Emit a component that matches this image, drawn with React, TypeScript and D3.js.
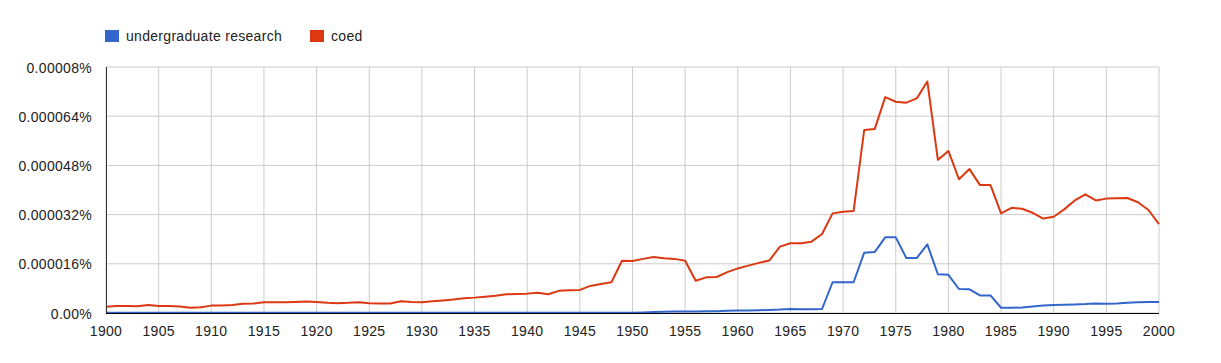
import React from "react";
import * as d3 from "d3";

const years: number[] = d3.range(1900, 2001);

// values in units of 1e-6 %
const coed: number[] = [
  2.0, 2.3, 2.3, 2.2, 2.6, 2.3, 2.3, 2.1, 1.7, 1.9,
  2.4, 2.4, 2.6, 3.0, 3.1, 3.5, 3.5, 3.5, 3.6, 3.7,
  3.6, 3.3, 3.2, 3.3, 3.5, 3.2, 3.1, 3.1, 3.8, 3.6,
  3.5, 3.8, 4.1, 4.4, 4.8, 5.0, 5.3, 5.6, 6.1, 6.2,
  6.3, 6.6, 6.1, 7.2, 7.4, 7.5, 8.8, 9.4, 10.0, 17.0,
  16.9, 17.6, 18.2, 17.8, 17.6, 17.0, 10.5, 11.6, 11.7, 13.3,
  14.5, 15.4, 16.3, 17.1, 21.6, 22.7, 22.7, 23.2, 25.7, 32.4,
  32.9, 33.2, 59.5, 59.8, 70.2, 68.7, 68.4, 69.8, 75.3, 49.8,
  52.7, 43.5, 46.8, 41.6, 41.6, 32.4, 34.2, 33.9, 32.6, 30.7,
  31.3, 33.7, 36.6, 38.6, 36.6, 37.2, 37.3, 37.4, 36.0, 33.5,
  28.9,
];

const undergrad: number[] = [
  0.05, 0.05, 0.05, 0.05, 0.05, 0.05, 0.05, 0.05, 0.05, 0.05,
  0.05, 0.05, 0.05, 0.05, 0.05, 0.05, 0.05, 0.05, 0.05, 0.05,
  0.05, 0.05, 0.05, 0.05, 0.05, 0.05, 0.05, 0.05, 0.05, 0.05,
  0.05, 0.05, 0.05, 0.05, 0.05, 0.05, 0.05, 0.05, 0.05, 0.05,
  0.05, 0.05, 0.05, 0.05, 0.05, 0.05, 0.05, 0.05, 0.05, 0.05,
  0.1, 0.2, 0.3, 0.4, 0.45, 0.5, 0.5, 0.55, 0.6, 0.7,
  0.8, 0.85, 0.9, 1.0, 1.1, 1.3, 1.2, 1.2, 1.3, 10.0,
  10.0, 10.0, 19.6, 19.8, 24.6, 24.6, 17.9, 17.9, 22.3, 12.6,
  12.4, 7.8, 7.7, 5.7, 5.7, 1.7, 1.7, 1.8, 2.1, 2.4,
  2.6, 2.7, 2.8, 2.9, 3.1, 3.0, 3.1, 3.3, 3.5, 3.6,
  3.6,
];

const yTicks: number[] = [0, 16, 32, 48, 64, 80];
const yTickLabels: string[] = ["0.00%", "0.000016%", "0.000032%", "0.000048%", "0.000064%", "0.00008%"];
const xTicks: number[] = d3.range(1900, 2001, 5);

const seriesNames: string[] = ["undergraduate research", "coed"];
const seriesColors: string[] = ["#3366cc", "#dc3912"];

export default function App() {
  const W = 1221, H = 363;
  const left = 106, right = 1159, top = 67, bottom = 313;
  const x = d3.scaleLinear().domain([1900, 2000]).range([left, right]);
  const y = d3.scaleLinear().domain([0, 80]).range([bottom, top]);
  const line = d3.line<number>().x((_, i) => x(years[i])).y((d) => y(d));
  const font = "Arial, 'Liberation Sans', sans-serif";
  const series = [undergrad, coed];
  const legendX = [105, 310];
  const ls = 0.3;

  return (
    <svg width={W} height={H} style={{ position: "absolute", left: 0, top: 0, background: "#fff" }} fontFamily={font}>
      {/* legend */}
      {seriesNames.map((n, i) => (
        <g key={n}>
          <rect x={legendX[i]} y={30} width={14} height={12} fill={seriesColors[i]} />
          <text x={legendX[i] + 21} y={41} fontSize={14} letterSpacing={ls} fill="#222">{n}</text>
        </g>
      ))}
      {/* vertical grid */}
      {xTicks.map((t) => (
        <line key={"vx" + t} x1={x(t)} x2={x(t)} y1={top} y2={bottom} stroke="#cccccc" strokeWidth={1} />
      ))}
      {/* horizontal grid */}
      {yTicks.map((t) => (
        <line key={"hy" + t} x1={left} x2={right} y1={y(t)} y2={y(t)} stroke="#cccccc" strokeWidth={1} />
      ))}
      {/* y labels */}
      {yTicks.map((t, i) => (
        <text key={"yl" + t} x={92} y={y(t) + 5.5} fontSize={14} letterSpacing={ls} textAnchor="end" fill="#222">{yTickLabels[i]}</text>
      ))}
      {/* x labels */}
      {xTicks.map((t) => (
        <text key={"xl" + t} x={x(t)} y={336} fontSize={14} letterSpacing={ls} textAnchor="middle" fill="#222">{t}</text>
      ))}
      {/* lines */}
      {series.map((s, i) => (
        <path key={"s" + i} d={line(s) || ""} fill="none" stroke={seriesColors[i]} strokeWidth={2} strokeLinejoin="round" />
      ))}
      {/* axes */}
      <line x1={left + 0.5} x2={left + 0.5} y1={top} y2={bottom} stroke="#333" strokeWidth={1} />
      <line x1={left} x2={right} y1={bottom + 0.5} y2={bottom + 0.5} stroke="#000" strokeWidth={1} />
    </svg>
  );
}
